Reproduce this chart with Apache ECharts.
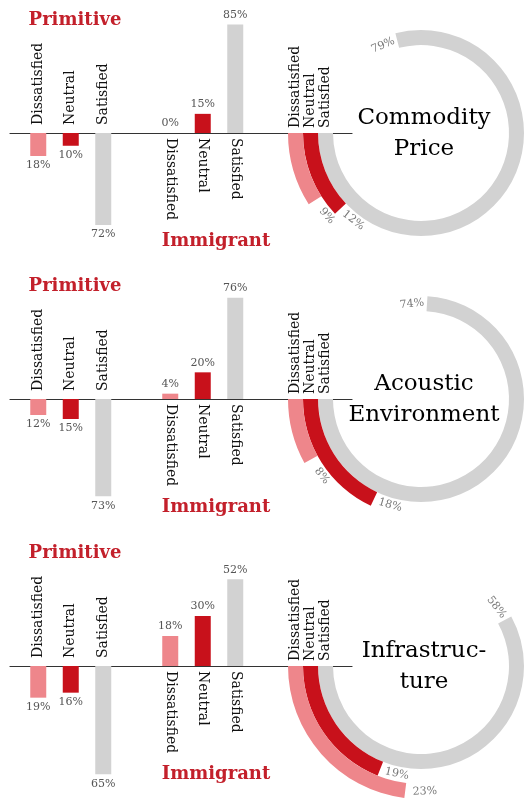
<!DOCTYPE html>
<html>
<head>
<meta charset="utf-8">
<script src="https://cdn.jsdelivr.net/npm/echarts@6/dist/echarts.min.js"></script>
<style>
  html, body { margin: 0; padding: 0; background: #fff; }
  #chart { width: 530px; height: 803px; }
</style>
</head>
<body>
<div id="chart"></div>
<script>
// data
const categories = ['Dissatisfied', 'Neutral', 'Satisfied'];
const panelTitles = ['Commodity\nPrice', 'Acoustic\nEnvironment', 'Infrastruc-\nture'];
const primitiveValues = [
  [18, 10, 72],
  [12, 15, 73],
  [19, 16, 65]
];
const immigrantValues = [
  [0, 15, 85],
  [4, 20, 76],
  [18, 30, 52]
];
// dissatisfied, neutral, satisfied (outer -> inner ring)
const overallValues = [
  [9, 12, 79],
  [8, 18, 74],
  [23, 19, 58]
];

// layout
const colors = ['#ee868b', '#c8111b', '#d2d2d2'];
const axisYs = [133, 399, 666];
const barAxisMax = [94, 90, 72];
const ringCx = 421;
const labelGap = 2.5; // how far past the arc end the ring value sits
const serif = 'DejaVu Serif';

const chart = echarts.init(document.getElementById('chart'));

const grid = [], xAxis = [], yAxis = [], series = [];
const polar = [], angleAxis = [], radiusAxis = [], graphic = [];

const catLabel = (margin) => ({
  rotate: -90, margin: margin, interval: 0,
  fontFamily: serif, fontSize: 14, color: '#111'
});
const valueLabel = (pos) => ({
  show: true, position: pos, distance: 4, formatter: '{c}%',
  fontFamily: serif, fontSize: 11, color: '#555'
});
// ring starts at 9 o'clock and runs counterclockwise; text follows the tangent
function tangentRotate(v) {
  let r = 90 + v * 3.6;
  while (r > 90) r -= 180;
  while (r <= -90) r += 180;
  return r;
}

axisYs.forEach((ay, p) => {
  const g = p * 4;
  // primitive (bars go down)
  grid.push({ left: 22, top: ay, width: 97.5, height: 120 });
  xAxis.push({
    gridIndex: g, type: 'category', data: categories, position: 'top',
    axisLine: { show: false, onZero: false }, axisTick: { show: false },
    axisLabel: catLabel(8)
  });
  yAxis.push({ gridIndex: g, type: 'value', inverse: true, min: 0, max: barAxisMax[p], show: false, splitLine: { show: false } });

  // immigrant (bars go up)
  grid.push({ left: 154, top: ay - 120, width: 97.5, height: 120 });
  xAxis.push({
    gridIndex: g + 1, type: 'category', data: categories, position: 'bottom',
    axisLine: { show: false, onZero: false }, axisTick: { show: false },
    axisLabel: catLabel(5)
  });
  yAxis.push({ gridIndex: g + 1, type: 'value', min: 0, max: barAxisMax[p], show: false, splitLine: { show: false } });

  // long base line
  grid.push({ left: 10, top: ay, width: 342, height: 1 });
  xAxis.push({
    gridIndex: g + 2, type: 'value', min: 0, max: 1, position: 'top',
    axisLine: { show: true, onZero: false, lineStyle: { color: '#333', width: 1.2 } },
    axisTick: { show: false }, axisLabel: { show: false }, splitLine: { show: false }
  });
  yAxis.push({ gridIndex: g + 2, type: 'value', show: false, splitLine: { show: false } });

  // ring labels
  grid.push({ left: ringCx - 133, top: ay, width: 45, height: 1 });
  xAxis.push({
    gridIndex: g + 3, type: 'category', data: categories, position: 'top',
    axisLine: { show: false, onZero: false }, axisTick: { show: false },
    axisLabel: catLabel(5)
  });
  yAxis.push({ gridIndex: g + 3, type: 'value', show: false, splitLine: { show: false } });

  series.push({
    type: 'bar', xAxisIndex: g, yAxisIndex: g, barWidth: 16,
    data: primitiveValues[p].map((v, i) => ({ value: v, itemStyle: { color: colors[i] } })),
    label: valueLabel('bottom')
  });
  series.push({
    type: 'bar', xAxisIndex: g + 1, yAxisIndex: g + 1, barWidth: 16,
    data: immigrantValues[p].map((v, i) => ({ value: v, itemStyle: { color: colors[i] } })),
    label: valueLabel('top')
  });

  // ring
  const ringCats = categories.slice().reverse(); // inner -> outer
  const ringVals = overallValues[p].slice().reverse();
  polar.push({ center: [ringCx, ay], radius: [88, 133] });
  angleAxis.push({
    polarIndex: p, type: 'value', min: 0, max: 100, startAngle: 180, clockwise: false,
    axisLine: { show: false }, axisTick: { show: false }, axisLabel: { show: false }, splitLine: { show: false }
  });
  radiusAxis.push({
    polarIndex: p, type: 'category', data: ringCats,
    axisLine: { show: false }, axisTick: { show: false }, axisLabel: { show: false }, splitLine: { show: false }
  });
  series.push({
    type: 'bar', coordinateSystem: 'polar', polarIndex: p, barCategoryGap: '0%',
    data: ringVals.map((v, i) => ({ value: v, itemStyle: { color: colors[2 - i] } }))
  });
  series.push({
    type: 'scatter', coordinateSystem: 'polar', polarIndex: p, symbolSize: 0, z: 5,
    data: ringVals.map((v, i) => ({
      name: v + '%',
      value: [ringCats[i], v + labelGap],
      label: { rotate: tangentRotate(v + labelGap) }
    })),
    label: {
      show: true, position: 'inside', formatter: '{b}',
      fontFamily: serif, fontSize: 11, color: '#555'
    }
  });

  graphic.push({
    type: 'text', x: 75, y: ay - 113,
    style: { text: 'Primitive', align: 'center', verticalAlign: 'middle', font: 'bold 18px "DejaVu Serif"', fill: '#c3202b' }
  });
  graphic.push({
    type: 'text', x: 216, y: ay + 108,
    style: { text: 'Immigrant', align: 'center', verticalAlign: 'middle', font: 'bold 18px "DejaVu Serif"', fill: '#c3202b' }
  });
  graphic.push({
    type: 'text', x: 424, y: ay + 1,
    style: { text: panelTitles[p], align: 'center', verticalAlign: 'middle', font: '23px "DejaVu Serif"', lineHeight: 31, fill: '#000' }
  });
});

chart.setOption({
  animation: false,
  grid: grid,
  xAxis: xAxis,
  yAxis: yAxis,
  polar: polar,
  angleAxis: angleAxis,
  radiusAxis: radiusAxis,
  series: series,
  graphic: graphic
});
</script>
</body>
</html>
